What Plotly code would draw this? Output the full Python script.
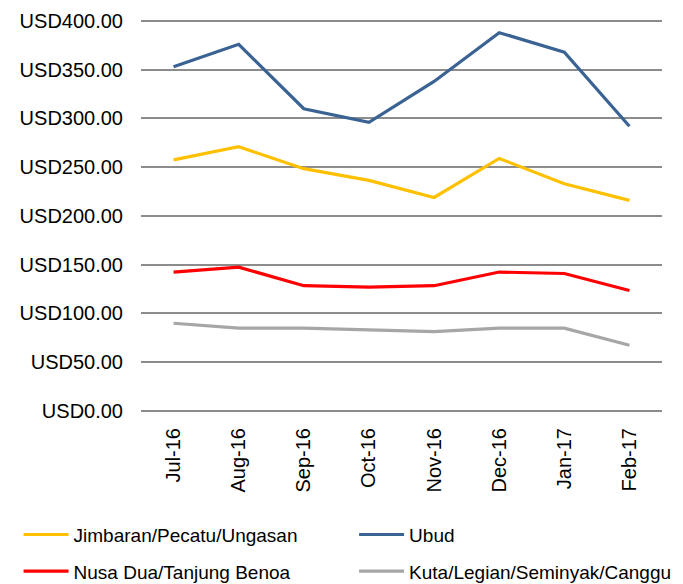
import plotly.graph_objects as go

months = ["Jul-16", "Aug-16", "Sep-16", "Oct-16", "Nov-16", "Dec-16", "Jan-17", "Feb-17"]
jimbaran = [257.5, 271, 248.5, 236.5, 219, 259, 233, 216]
ubud = [353, 376, 310, 296, 338, 388, 368, 292]
nusa_dua = [142.5, 147.5, 128.5, 127, 128.5, 142.5, 141, 123.5]
kuta = [90, 85, 85, 83.5, 81.5, 85, 85, 67.5]

names = ["Jimbaran/Pecatu/Ungasan", "Ubud", "Nusa Dua/Tanjung Benoa", "Kuta/Legian/Seminyak/Canggu"]
colors = ["#FFC000", "#3A6394", "#FF0000", "#A6A6A6"]
series = [jimbaran, ubud, nusa_dua, kuta]
legends = ["legend", "legend2", "legend", "legend2"]

FONT = "Liberation Sans, Arial, sans-serif"

fig = go.Figure()
for i, (nm, col, vals, lg) in enumerate(zip(names, colors, series, legends)):
    fig.add_trace(go.Scatter(
        x=months, y=vals, name=nm, mode="lines",
        line=dict(color=col, width=3.2),
        legend=lg, legendgroup=f"g{i}",
    ))

fig.update_layout(
    width=675, height=576,
    margin=dict(l=133, r=21, t=11, b=173, autoexpand=False),
    paper_bgcolor="white", plot_bgcolor="white",
    font=dict(family=FONT, size=18, color="#000000"),
    showlegend=True,
    legend=dict(x=-0.235, y=-0.267, xanchor="left", yanchor="top",
                orientation="v", tracegroupgap=9,
                font=dict(family=FONT, size=19, color="#000000"),
                itemwidth=45, bgcolor="rgba(0,0,0,0)"),
    legend2=dict(x=0.409, y=-0.267, xanchor="left", yanchor="top",
                 orientation="v", tracegroupgap=9,
                 font=dict(family=FONT, size=19, color="#000000"),
                 itemwidth=45, bgcolor="rgba(0,0,0,0)"),
)
fig.update_xaxes(
    type="category", range=[-0.5, 7.5], showgrid=False, showline=False, zeroline=False,
    tickangle=-90, ticks="", ticklabelstandoff=12, automargin=False,
    tickfont=dict(family=FONT, size=20, color="#000000"),
)
fig.update_yaxes(
    range=[0, 402], dtick=50, tick0=0, tickprefix="USD", tickformat=".2f",
    showgrid=True, gridcolor="#8C8C8C", gridwidth=1.5,
    zeroline=True, zerolinecolor="#8C8C8C", zerolinewidth=1.5,
    showline=False, ticks="", ticklen=0, ticklabelstandoff=17, automargin=False,
    tickfont=dict(family=FONT, size=20, color="#000000"),
)

fig.write_html("out.html")
